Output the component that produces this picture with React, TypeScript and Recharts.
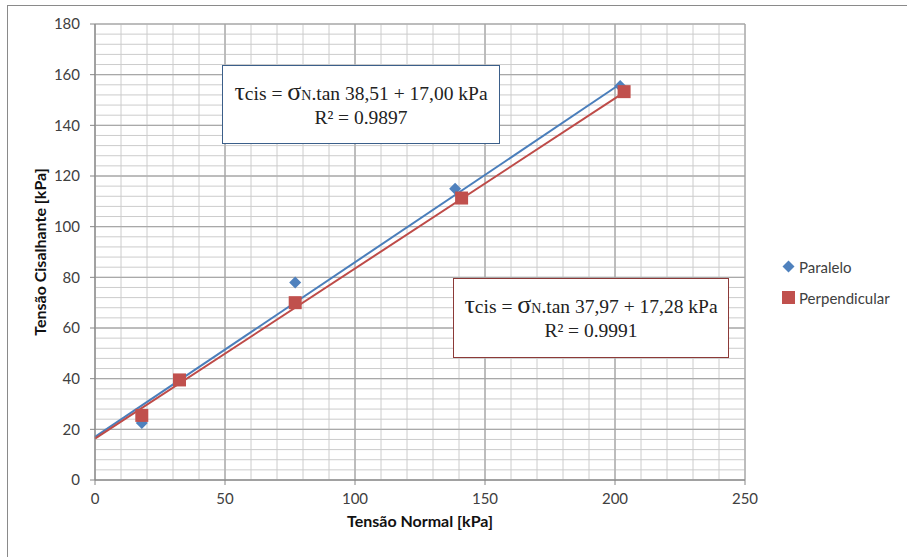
import {
  ComposedChart,
  CartesianGrid,
  Line,
  ReferenceLine,
  Scatter,
  XAxis,
  YAxis,
} from "recharts";

// valores
const xTicks = [0, 50, 100, 150, 200, 250];
const yTicks = [0, 20, 40, 60, 80, 100, 120, 140, 160, 180];

const paralelo = [
  { x: 18, y: 22.5 },
  { x: 32.5, y: 39.5 },
  { x: 77, y: 78 },
  { x: 138.5, y: 115 },
  { x: 202, y: 155.5 },
];

const perpendicular = [
  { x: 18, y: 25.5 },
  { x: 32.5, y: 39.5 },
  { x: 77, y: 70 },
  { x: 141, y: 111.3 },
  { x: 203.5, y: 153.3 },
];

// linhas de tendência (extremos)
const trendParalelo = [
  { x: 0, y: 17 },
  { x: 202, y: 156.3 },
];
const trendPerpendicular = [
  { x: 0, y: 16.3 },
  { x: 203.5, y: 153 },
];

const seriesNames = ["Paralelo", "Perpendicular"];
const BLUE = "#4f81bd";
const RED = "#c0504d";
const FONT = "Lato, 'Open Sans', sans-serif";

// grade secundária: 10 kPa em x, 4 kPa em y
const xMinor = Array.from({ length: 25 }, (_, i) => i * 10).filter((v) => v % 50 !== 0);
const yMinor = Array.from({ length: 45 }, (_, i) => i * 4).filter((v) => v % 20 !== 0 && v > 0);

const Diamond = (props: any) => {
  const { cx, cy } = props;
  if (cx == null || cy == null) return null;
  const r = 6;
  return (
    <polygon
      points={`${cx},${cy - r} ${cx + r},${cy} ${cx},${cy + r} ${cx - r},${cy}`}
      fill={BLUE}
    />
  );
};

const Square = (props: any) => {
  const { cx, cy } = props;
  if (cx == null || cy == null) return null;
  const s = 13;
  return <rect x={cx - s / 2} y={cy - s / 2} width={s} height={s} fill={RED} />;
};

const LegendBox = () => (
  <div
    style={{
      position: "absolute",
      left: 781,
      top: 251,
      fontFamily: FONT,
      fontSize: 15,
      color: "#404040",
    }}
  >
    {seriesNames.map((name, i) => (
      <div key={name} style={{ display: "flex", alignItems: "center", height: 31 }}>
        <svg width={15} height={15} style={{ marginRight: 3 }}>
          {i === 0 ? (
            <polygon points="7.5,1.5 13.5,7.5 7.5,13.5 1.5,7.5" fill={BLUE} />
          ) : (
            <rect x={1} y={1} width={13} height={13} fill={RED} />
          )}
        </svg>
        <span>{name}</span>
      </div>
    ))}
  </div>
);

const tickStyle = { fill: "#404040", fontSize: 15, fontFamily: FONT };
const titleStyle = { fill: "#111", fontSize: 16, fontWeight: 700, fontFamily: FONT };

const Equation = ({
  angle,
  intercept,
  r2,
  style,
}: {
  angle: string;
  intercept: string;
  r2: string;
  style: React.CSSProperties;
}) => (
  <div
    style={{
      position: "absolute",
      boxSizing: "border-box",
      background: "#fff",
      display: "flex",
      flexDirection: "column",
      justifyContent: "center",
      alignItems: "center",
      fontFamily: "'Liberation Serif', 'Times New Roman', serif",
      fontSize: 19.5,
      color: "#222",
      lineHeight: "22px",
      ...style,
    }}
  >
    <div>
      <span style={{ fontSize: 26 }}>τ</span>cis = <span style={{ fontSize: 26 }}>σ</span>
      <span style={{ fontSize: 14 }}>N</span>.tan {angle} + {intercept} kPa
    </div>
    <div>R² = {r2}</div>
  </div>
);

export default function App() {
  return (
    <div style={{ position: "absolute", left: 0, top: 0, width: 907, height: 557, background: "#fff", overflow: "hidden" }}>
      <div
        style={{
          position: "absolute",
          left: 7,
          top: 5,
          width: 920,
          height: 580,
          borderLeft: "1px solid #8a8a8a",
          borderTop: "1px solid #8a8a8a",
        }}
      />
      <ComposedChart
        width={907}
        height={557}
        margin={{ top: 24, right: 162, left: 35, bottom: 47 }}
        style={{ position: "absolute", left: 0, top: 0 }}
      >
        <CartesianGrid stroke="#a6a6a6" />
        {xMinor.map((v) => (
          <ReferenceLine key={`vx-${v}`} x={v} stroke="#cccccc" />
        ))}
        {yMinor.map((v) => (
          <ReferenceLine key={`hy-${v}`} y={v} stroke="#cccccc" />
        ))}
        {xTicks.map((v) => (
          <ReferenceLine key={`mx-${v}`} x={v} stroke="#a6a6a6" />
        ))}
        {yTicks.map((v) => (
          <ReferenceLine key={`my-${v}`} y={v} stroke="#a6a6a6" />
        ))}
        <XAxis
          type="number"
          dataKey="x"
          domain={[0, 250]}
          ticks={xTicks}
          stroke="#868686"
          tickSize={5}
          tickMargin={8}
          tick={tickStyle}
          height={30}
          label={{ value: "Tensão Normal [kPa]", position: "bottom", offset: 6, style: titleStyle }}
        />
        <YAxis
          type="number"
          dataKey="y"
          domain={[0, 180]}
          ticks={yTicks}
          stroke="#868686"
          tickSize={5}
          tickMargin={10}
          tick={tickStyle}
          width={60}
          label={{
            value: "Tensão Cisalhante [kPa]",
            angle: -90,
            position: "insideLeft",
            offset: 5,
            style: { ...titleStyle, textAnchor: "middle" },
          }}
        />
        <Scatter name="Paralelo" data={paralelo} dataKey="y" fill={BLUE} shape={<Diamond />} isAnimationActive={false} />
        <Scatter
          name="Perpendicular"
          data={perpendicular}
          dataKey="y"
          fill={RED}
          shape={<Square />}
          isAnimationActive={false}
        />
        <Line
          data={trendParalelo}
          dataKey="y"
          stroke="#4a7ebb"
          strokeWidth={2}
          dot={false}
          activeDot={false}
          isAnimationActive={false}
        />
        <Line
          data={trendPerpendicular}
          dataKey="y"
          stroke="#be4b48"
          strokeWidth={2}
          dot={false}
          activeDot={false}
          isAnimationActive={false}
        />
      </ComposedChart>
      <LegendBox />
      <Equation
        angle="38,51"
        intercept="17,00"
        r2="0.9897"
        style={{ left: 222, top: 65, width: 278, height: 79, border: "1px solid #3b5f8a" }}
      />
      <Equation
        angle="37,97"
        intercept="17,28"
        r2="0.9991"
        style={{ left: 453, top: 278, width: 276, height: 80, border: "1px solid #8c3a38" }}
      />
    </div>
  );
}
